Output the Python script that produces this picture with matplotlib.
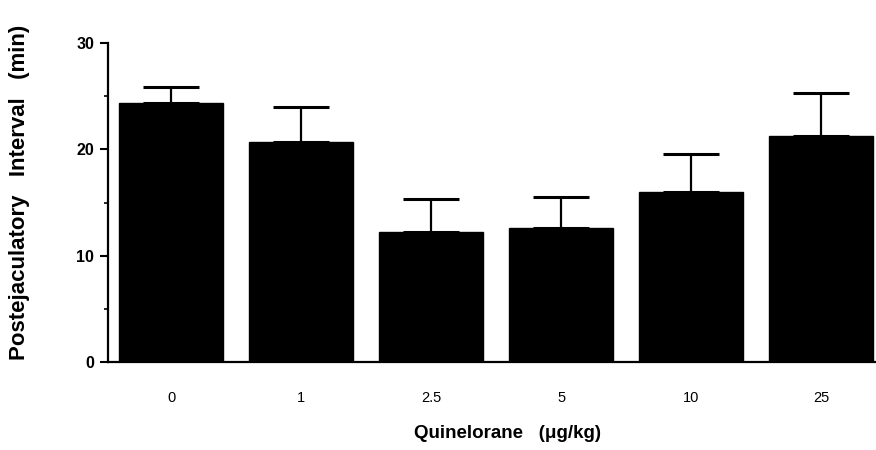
import numpy as np
import matplotlib.pyplot as plt

# datos
dosis = ['0', '1', '2.5', '5', '10', '25']
media = [24.4, 20.7, 12.2, 12.6, 16.0, 21.3]
error = [1.5, 3.3, 3.1, 2.9, 3.6, 4.0]

plt.rcParams['font.family'] = ['Liberation Sans', 'DejaVu Sans']

fig = plt.figure(figsize=(8.76, 4.5), dpi=100)
ax = fig.add_axes([108/876, 1-362/450, 1-108/876, (362-43)/450])

x = np.arange(len(dosis))
ax.bar(x, media, width=0.8, color='black', edgecolor='black')
ax.errorbar(x, media, yerr=[np.zeros(len(error)), error], fmt='none',
            ecolor='black', elinewidth=1.6, capsize=20, capthick=2.2)

ax.set_xlim(-0.485, 5.42)
ax.set_ylim(0, 30)
ax.set_yticks([0, 10, 20, 30])
ax.set_yticks([5, 15, 25], minor=True)
ax.set_xticks(x)
ax.set_xticklabels(dosis, fontsize=10.5)
ax.tick_params(axis='x', length=0, pad=21)
ax.tick_params(axis='y', which='major', length=6, width=1.5, pad=4, labelsize=11.5)
ax.tick_params(axis='y', which='minor', length=3, width=1.2)
for lab in ax.get_yticklabels():
    lab.set_fontweight('bold')

ax.spines['top'].set_visible(False)
ax.spines['right'].set_visible(False)
ax.spines['left'].set_linewidth(1.6)
ax.spines['bottom'].set_linewidth(1.6)

# titulos de los ejes
fig.text(507/876, 1-433/450, 'Quinelorane   (\u03bcg/kg)', ha='center', va='center',
         fontsize=13.5, fontweight='bold')
fig.text(20/876, 1-192/450, 'Postejaculatory   Interval   (min)', rotation=90,
         ha='center', va='center', fontsize=16, fontweight='bold')

fig.savefig('out.png', dpi=100)
